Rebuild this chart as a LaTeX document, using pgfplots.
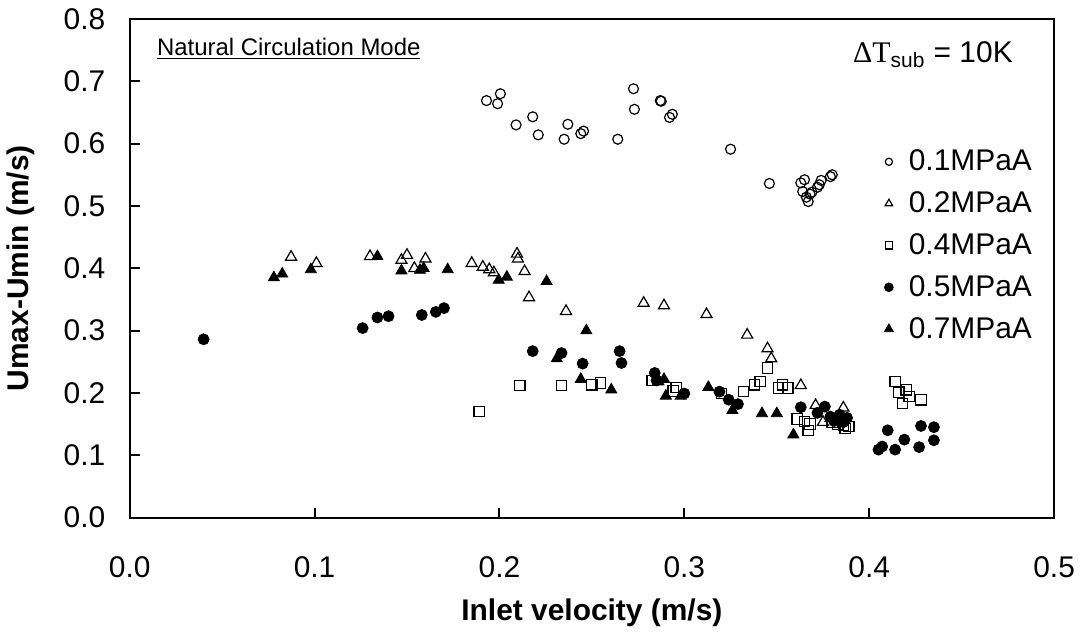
\documentclass[border=0pt]{standalone}
\usepackage{fontspec}
\setmainfont{Liberation Sans}
\newfontfamily\serif{Liberation Serif}
\usepackage{pgfplots}
\pgfplotsset{compat=1.18}
\pgfplotsset{smallmark/.style={legend image code/.code={\draw[##1, mark size=#1] plot coordinates {(0pt,0pt)};\path[draw=none,fill=none] (0pt,-0.5pt) rectangle (5.5pt,0.5pt);}}}
\pgfplotstableread{
x y
0.193 0.669
0.199 0.664
0.2005 0.680
0.209 0.630
0.218 0.643
0.221 0.614
0.235 0.607
0.237 0.631
0.244 0.616
0.2455 0.620
0.264 0.607
0.2725 0.688
0.273 0.655
0.287 0.669
0.2875 0.668
0.292 0.642
0.2935 0.647
0.325 0.591
0.346 0.536
0.363 0.537
0.364 0.523
0.365 0.542
0.366 0.514
0.367 0.507
0.368 0.519
0.369 0.522
0.372 0.530
0.373 0.534
0.374 0.541
0.379 0.547
0.380 0.550
}\pa
\pgfplotstableread{
x y
0.0873 0.418
0.101 0.408
0.130 0.419
0.147 0.413
0.150 0.421
0.154 0.400
0.160 0.415
0.185 0.408
0.191 0.402
0.1945 0.398
0.197 0.393
0.2095 0.423
0.210 0.415
0.2136 0.395
0.216 0.353
0.236 0.331
0.278 0.344
0.289 0.340
0.312 0.326
0.334 0.293
0.345 0.271
0.347 0.255
0.363 0.212
0.371 0.180
0.375 0.153
0.386 0.176
0.385 0.155
}\pb
\pgfplotstableread{
x y
0.189 0.170
0.211 0.212
0.2336 0.212
0.250 0.213
0.2546 0.216
0.2826 0.220
0.294 0.203
0.2956 0.209
0.320 0.199
0.332 0.202
0.338 0.213
0.341 0.218
0.345 0.240
0.351 0.208
0.353 0.213
0.356 0.208
0.361 0.158
0.365 0.154
0.367 0.140
0.368 0.150
0.380 0.153
0.383 0.150
0.386 0.148
0.387 0.143
0.389 0.146
0.414 0.218
0.416 0.201
0.418 0.183
0.420 0.205
0.4216 0.194
0.428 0.189
}\pc
\pgfplotstableread{
x y
0.040 0.286
0.126 0.304
0.134 0.321
0.140 0.323
0.158 0.325
0.1656 0.330
0.170 0.336
0.218 0.267
0.2336 0.264
0.245 0.247
0.265 0.267
0.266 0.248
0.284 0.232
0.285 0.220
0.300 0.199
0.319 0.202
0.324 0.189
0.329 0.182
0.363 0.177
0.372 0.168
0.376 0.178
0.379 0.162
0.381 0.155
0.383 0.158
0.384 0.165
0.386 0.153
0.388 0.160
0.405 0.109
0.407 0.114
0.410 0.140
0.414 0.109
0.419 0.125
0.427 0.113
0.428 0.147
0.435 0.145
0.435 0.124
}\pd
\pgfplotstableread{
x y
0.078 0.385
0.0825 0.391
0.098 0.398
0.134 0.419
0.147 0.396
0.157 0.397
0.159 0.400
0.172 0.398
0.1996 0.381
0.204 0.386
0.2255 0.379
0.247 0.300
0.231 0.255
0.244 0.222
0.2605 0.205
0.286 0.218
0.289 0.222
0.290 0.195
0.298 0.195
0.313 0.209
0.326 0.172
0.342 0.167
0.350 0.167
0.359 0.133
0.379 0.159
}\pe
\begin{document}
\begin{tikzpicture}
\begin{axis}[scale only axis, width=463.5pt, height=250pt,
 xmin=0, xmax=0.5, ymin=0, ymax=0.8,
 xtick={0,0.1,0.2,0.3,0.4,0.5}, ytick={0,0.1,0.2,0.3,0.4,0.5,0.6,0.7,0.8},
 tick align=inside, xtick pos=left, ytick pos=left,
 major tick length=5pt,
 axis line style={line width=1pt}, tick style={line width=1pt, black},
 /pgf/number format/.cd, fixed, fixed zerofill, precision=1, assume math mode=true, /pgfplots/.cd,
 tick label style={font=\fontsize{15}{18}\selectfont, inner sep=0pt},
 yticklabel style={xshift=-12pt},
 xticklabel style={yshift=-19.5pt},
 xlabel={Inlet velocity (m/s)},
 xlabel style={font=\fontsize{15}{18}\selectfont\bfseries, at={(axis description cs:0.5,-0.19)}, anchor=center},
 ylabel={Umax-Umin (m/s)},
 ylabel style={font=\fontsize{15}{18}\selectfont\bfseries, at={(axis description cs:-0.118,0.5)}, anchor=center},
 legend style={draw=none, fill=none, font=\fontsize{15}{18}\selectfont, at={(axis cs:0.408,0.605)}, anchor=north west, inner sep=0pt, row sep=0pt, nodes={inner sep=4.5pt}},
 legend cell align=left,
]
\addplot[only marks, color=black, mark=o, mark size=2.5pt, mark options={line width=0.6pt}, smallmark=1.8pt] table {\pa};
\addlegendentry{0.1MPaA}
\addplot[only marks, color=black, mark=triangle, mark size=3.2pt, mark options={line width=0.6pt}, smallmark=2.2pt] table {\pb};
\addlegendentry{0.2MPaA}
\addplot[only marks, color=black, mark=square, mark size=2.6pt, mark options={line width=0.6pt}, smallmark=1.8pt] table {\pc};
\addlegendentry{0.4MPaA}
\addplot[only marks, color=black, mark=*, mark size=2.75pt, mark options={fill=black}, smallmark=2.2pt] table {\pd};
\addlegendentry{0.5MPaA}
\addplot[only marks, color=black, mark=triangle*, mark size=3.2pt, mark options={fill=black}, smallmark=2.6pt] table {\pe};
\addlegendentry{0.7MPaA}
\node[anchor=west, font=\fontsize{12}{14}\selectfont] at (axis description cs:0.022,0.94) {\underline{Natural Circulation Mode}};
\node[anchor=west, font=\fontsize{15}{18}\selectfont] at (axis description cs:0.775,0.928) {{\serif ΔT}\textsubscript{sub} = 10K};
\coordinate (bl) at (rel axis cs:0,0);
\coordinate (tr) at (rel axis cs:1,1);
\end{axis}
\path ([shift={(-63.5pt,-58.5pt)}]bl) rectangle ([shift={(18pt,9.5pt)}]tr);
\end{tikzpicture}
\end{document}
